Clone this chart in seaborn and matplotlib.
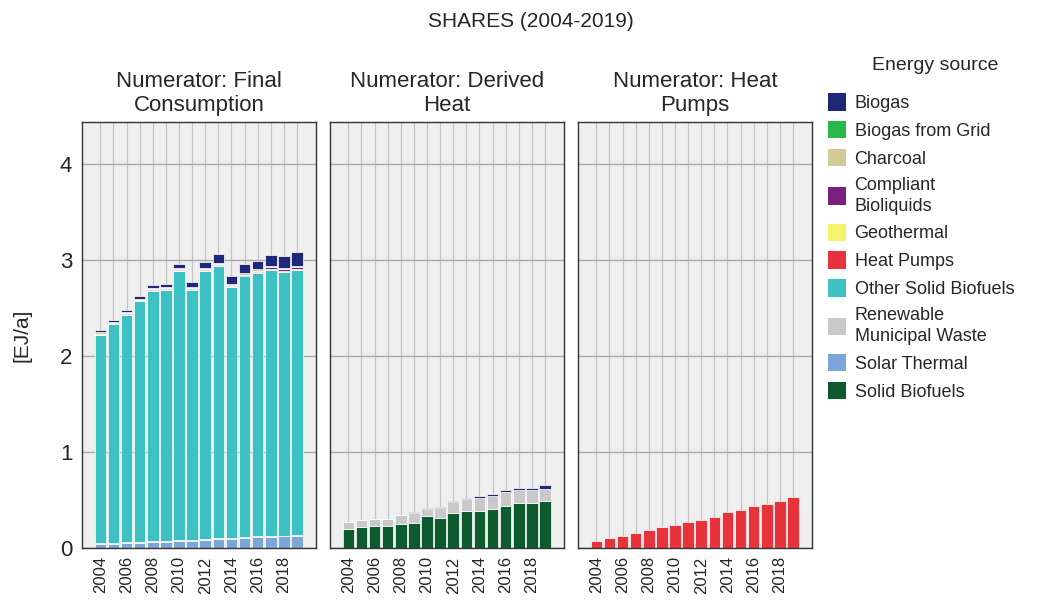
import pandas as pd
import matplotlib.pyplot as plt
import seaborn as sns
from matplotlib.patches import Patch

# -----------------------------
# Data (EJ/a)
# -----------------------------
years = list(range(2004, 2020))

sources = ["Biogas", "Biogas from Grid", "Charcoal", "Compliant Bioliquids",
           "Geothermal", "Heat Pumps", "Other Solid Biofuels",
           "Renewable Municipal Waste", "Solar Thermal", "Solid Biofuels"]
legend_labels = ["Biogas", "Biogas from Grid", "Charcoal", "Compliant\nBioliquids",
                 "Geothermal", "Heat Pumps", "Other Solid Biofuels",
                 "Renewable\nMunicipal Waste", "Solar Thermal", "Solid Biofuels"]
colors = ["#1f2878", "#2bb84a", "#d2cb97", "#7a1f80", "#f4f46a",
          "#e8333d", "#3ec1c3", "#c9c9c9", "#7ca6d8", "#0e5a2f"]

# Numerator: Final Consumption
fc_solar = [0.04, 0.045, 0.05, 0.055, 0.06, 0.065, 0.07, 0.075,
            0.08, 0.09, 0.095, 0.10, 0.11, 0.115, 0.12, 0.13]
fc_rmw = [0.01] * 16
fc_other_solid = [2.17, 2.275, 2.37, 2.505, 2.61, 2.615, 2.81, 2.605,
                  2.80, 2.84, 2.615, 2.72, 2.75, 2.775, 2.75, 2.76]
fc_geothermal = [0.01] * 16
fc_bioliquids = [0.005, 0.005, 0.005, 0.005, 0.005, 0.005, 0.005, 0.005,
                 0.005, 0.01, 0.01, 0.01, 0.01, 0.015, 0.015, 0.015]
fc_charcoal = [0.015] * 16
fc_biogas = [0.02, 0.02, 0.02, 0.025, 0.03, 0.035, 0.04, 0.05,
             0.06, 0.085, 0.08, 0.09, 0.09, 0.11, 0.12, 0.15]

# Numerator: Derived Heat
dh_solid = [0.20, 0.22, 0.23, 0.23, 0.25, 0.26, 0.33, 0.31,
            0.37, 0.39, 0.39, 0.41, 0.44, 0.47, 0.47, 0.49]
dh_rmw = [0.07, 0.07, 0.07, 0.07, 0.09, 0.11, 0.08, 0.11,
          0.11, 0.12, 0.13, 0.13, 0.14, 0.13, 0.13, 0.13]
dh_biogas = [0.0, 0.0, 0.0, 0.0, 0.0, 0.005, 0.01, 0.01,
             0.015, 0.015, 0.02, 0.02, 0.025, 0.025, 0.03, 0.04]

# Numerator: Heat Pumps
hp_heat_pumps = [0.07, 0.10, 0.13, 0.16, 0.19, 0.22, 0.24, 0.27,
                 0.29, 0.32, 0.38, 0.40, 0.44, 0.46, 0.49, 0.53]

panels = ["Numerator: Final\nConsumption", "Numerator: Derived\nHeat",
          "Numerator: Heat\nPumps"]

series = [
    (panels[0], "Solar Thermal", fc_solar),
    (panels[0], "Renewable Municipal Waste", fc_rmw),
    (panels[0], "Other Solid Biofuels", fc_other_solid),
    (panels[0], "Geothermal", fc_geothermal),
    (panels[0], "Compliant Bioliquids", fc_bioliquids),
    (panels[0], "Charcoal", fc_charcoal),
    (panels[0], "Biogas", fc_biogas),
    (panels[1], "Solid Biofuels", dh_solid),
    (panels[1], "Renewable Municipal Waste", dh_rmw),
    (panels[1], "Biogas", dh_biogas),
    (panels[2], "Heat Pumps", hp_heat_pumps),
]

rows = []
for panel, src, vals in series:
    for y, v in zip(years, vals):
        rows.append({"Panel": panel, "Year": y, "Source": src, "Value": v})
df = pd.DataFrame(rows)

# -----------------------------
# Plot
# -----------------------------
sns.set_style("white")
plt.rcParams['font.family'] = ['Liberation Sans', 'DejaVu Sans']

fig = plt.figure(figsize=(10.52, 6.01), dpi=100)
palette = dict(zip(sources, colors))

lefts = [82, 330, 578]
width = 234
for i, panel in enumerate(panels):
    ax = fig.add_axes([lefts[i] / 1052, 53 / 601, width / 1052, 426 / 601])
    sub = df[df["Panel"] == panel]
    present = [s for s in sources if s in set(sub["Source"])]
    sns.histplot(data=sub, x="Year", weights="Value", hue="Source",
                 hue_order=present, palette=palette, multiple="stack",
                 discrete=True, shrink=0.88, alpha=1, edgecolor="#ffffff",
                 linewidth=0.5, legend=False, ax=ax)
    ax.set_facecolor("#efefef")
    ax.set_axisbelow(True)
    ax.set_xlim(2004 - 1.4, 2019 + 1.45)
    ax.set_ylim(0, 4.44)
    ax.set_xticks(years)
    ax.set_xticklabels([str(y) if y % 2 == 0 else "" for y in years],
                       rotation=90, fontsize=12)
    ax.set_yticks([0, 1, 2, 3, 4])
    ax.grid(axis="x", color="#c4c4c4", linewidth=0.9)
    ax.grid(axis="y", color="#a8a8a8", linewidth=1.0)
    ax.tick_params(axis="x", length=0, pad=6)
    ax.set_xlabel("")
    ax.set_title(panel, fontsize=16, pad=8, linespacing=1.2)
    for sp in ax.spines.values():
        sp.set_color("#333333")
        sp.set_linewidth(1.0)
    if i == 0:
        ax.tick_params(axis="y", length=4, labelsize=16, pad=3, color="#555555")
        ax.set_ylabel("[EJ/a]", fontsize=15)
        ax.yaxis.set_label_coords(-0.215, 0.5)
    else:
        ax.set_ylabel("")
        ax.tick_params(axis="y", length=0, labelleft=False)

fig.text(0.505, 0.965, "SHARES (2004-2019)", ha="center", va="center", fontsize=15)
fig.text(935 / 1052, 1 - 65 / 601, "Energy source", ha="center", va="center", fontsize=14)

handles = [Patch(facecolor=c, edgecolor="none") for c in colors]
leg = fig.legend(handles, legend_labels,
                 loc="upper left", bbox_to_anchor=(0.772, 0.872),
                 frameon=False, fontsize=13,
                 handlelength=1.0, handleheight=1.1, handletextpad=0.45,
                 labelspacing=0.5)
for t in leg.get_texts():
    t.set_linespacing(1.3)

plt.savefig("out.png", dpi=100)
